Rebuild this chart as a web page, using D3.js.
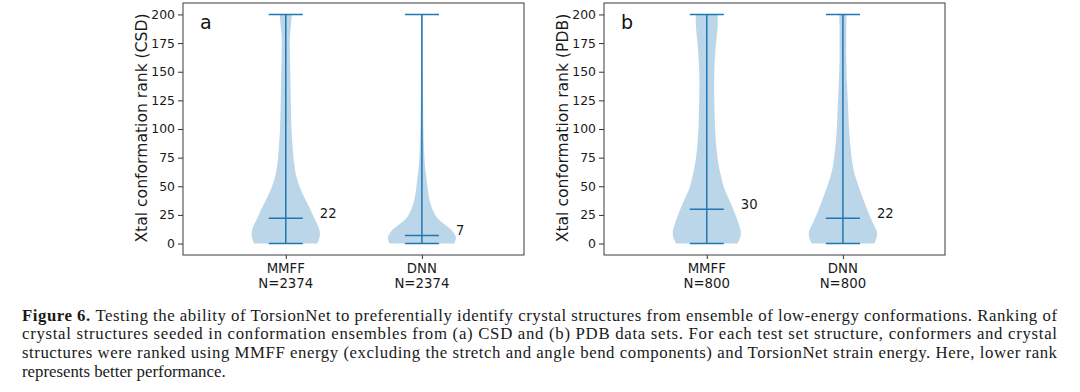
<!DOCTYPE html>
<html>
<head>
<meta charset="utf-8">
<script src="https://cdn.jsdelivr.net/npm/d3@7"></script>
<style>
  html, body { margin: 0; padding: 0; background: #fff; }
  svg { display: block; }
</style>
</head>
<body>
<svg id="chart" width="1080" height="392"></svg>
<script>
// ---------------- data ----------------
const categories = ["MMFF", "DNN"];
const panelLetters = ["a", "b"];
const yAxisLabels = ["Xtal conformation rank (CSD)", "Xtal conformation rank (PDB)"];
const countsCSD = [2374, 2374];
const countsPDB = [800, 800];
const mediansCSD = [22, 7];
const mediansPDB = [30, 22];
const minsCSD = [0, 0];
const minsPDB = [0, 0];
const maxsCSD = [200, 200];
const maxsPDB = [200, 200];
const yTicks = [0, 25, 50, 75, 100, 125, 150, 175, 200];
// rank grid where relative density (violin half-width, max = 1) was read
const rankGrid = [0, 5, 10, 15, 22, 30, 40, 50, 60, 70, 85, 100, 120, 140, 160, 180, 190, 200];
const densCsdMmff = [0.93, 0.99, 1.00, 0.95, 0.84, 0.72, 0.55, 0.40, 0.30, 0.245, 0.20, 0.17, 0.15, 0.14, 0.125, 0.12, 0.15, 0.18];
const densCsdDnn  = [0.95, 1.00, 0.92, 0.74, 0.46, 0.31, 0.21, 0.16, 0.12, 0.085, 0.06, 0.045, 0.035, 0.03, 0.025, 0.025, 0.025, 0.025];
const densPdbMmff = [0.90, 0.98, 1.00, 0.96, 0.88, 0.78, 0.63, 0.49, 0.41, 0.34, 0.28, 0.245, 0.225, 0.215, 0.235, 0.29, 0.32, 0.32];
const densPdbDnn  = [0.92, 0.99, 1.00, 0.93, 0.82, 0.71, 0.58, 0.46, 0.35, 0.28, 0.22, 0.18, 0.15, 0.12, 0.10, 0.10, 0.10, 0.11];
const captionLines = [
  "Testing the ability of TorsionNet to preferentially identify crystal structures from ensemble of low-energy conformations. Ranking of",
  "crystal structures seeded in conformation ensembles from (a) CSD and (b) PDB data sets. For each test set structure, conformers and crystal",
  "structures were ranked using MMFF energy (excluding the stretch and angle bend components) and TorsionNet strain energy. Here, lower rank",
  "represents better performance."
];
const captionLead = "Figure 6.";

// ---------------- layout ----------------
const svg = d3.select("#chart");
const C0 = "#1f77b4";
const FONT = "DejaVu Sans, sans-serif";

const panels = [
  { left: 183, right: 524, letter: panelLetters[0], ylab: yAxisLabels[0], counts: countsCSD,
    medians: mediansCSD, mins: minsCSD, maxs: maxsCSD, dens: [densCsdMmff, densCsdDnn] },
  { left: 604, right: 945, letter: panelLetters[1], ylab: yAxisLabels[1], counts: countsPDB,
    medians: mediansPDB, mins: minsPDB, maxs: maxsPDB, dens: [densPdbMmff, densPdbDnn] }
];
const plotTop = 3, plotBottom = 255;
const y = d3.scaleLinear().domain([-10, 210]).range([plotBottom, plotTop]);

panels.forEach(p => {
  const x = d3.scaleLinear().domain([0.245, 2.75]).range([p.left, p.right]);
  const g = svg.append("g");

  // violins
  p.dens.forEach((dens, i) => {
    const pos = i + 1;
    const pts = rankGrid.map((r, k) => ({ r, d: dens[k] }));
    const area = d3.area()
      .y(d => y(d.r))
      .x0(d => x(pos - d.d * 0.25))
      .x1(d => x(pos + d.d * 0.25))
      .curve(d3.curveCatmullRom.alpha(0.5));
    g.append("path").attr("d", area(pts))
      .attr("fill", C0).attr("fill-opacity", 0.3).attr("stroke", "none");
  });

  // bars / lines
  categories.forEach((c, i) => {
    const pos = i + 1;
    const lines = [
      [pos, p.mins[i], pos, p.maxs[i]],
      [pos - 0.125, p.mins[i], pos + 0.125, p.mins[i]],
      [pos - 0.125, p.maxs[i], pos + 0.125, p.maxs[i]],
      [pos - 0.125, p.medians[i], pos + 0.125, p.medians[i]]
    ];
    lines.forEach(l => {
      g.append("line")
        .attr("x1", x(l[0])).attr("y1", y(l[1]))
        .attr("x2", x(l[2])).attr("y2", y(l[3]))
        .attr("stroke", C0).attr("stroke-width", 1.5);
    });
    g.append("text")
      .attr("x", x(pos + 0.25)).attr("y", y(p.medians[i] + 4.5))
      .attr("dy", "0.36em")
      .attr("font-family", FONT).attr("font-size", 13.2).attr("fill", "#1a1a1a")
      .text(p.medians[i]);
  });

  // y axis
  const yAxis = d3.axisLeft(y).tickValues(yTicks).tickSize(5).tickPadding(3);
  const ya = g.append("g").attr("transform", `translate(${p.left},0)`).call(yAxis);
  ya.select(".domain").remove();
  ya.selectAll("text").attr("font-family", FONT).attr("font-size", 12.4).attr("fill", "#1a1a1a");
  ya.selectAll("line").attr("stroke", "#333");

  // x axis
  const xAxis = d3.axisBottom(x).tickValues([1, 2]).tickSize(4).tickFormat("");
  const xa = g.append("g").attr("transform", `translate(0,${plotBottom})`).call(xAxis);
  xa.select(".domain").remove();
  xa.selectAll("line").attr("stroke", "#333");
  categories.forEach((c, i) => {
    const t = g.append("text")
      .attr("x", x(i + 1)).attr("text-anchor", "middle")
      .attr("font-family", FONT).attr("font-size", 13.3).attr("fill", "#1a1a1a");
    t.append("tspan").attr("x", x(i + 1)).attr("y", 272.8).text(c);
    t.append("tspan").attr("x", x(i + 1)).attr("y", 287.8).text("N=" + p.counts[i]);
  });

  // frame
  g.append("rect").attr("x", p.left).attr("y", plotTop)
    .attr("width", p.right - p.left).attr("height", plotBottom - plotTop)
    .attr("fill", "none").attr("stroke", "#3a3a3a").attr("stroke-width", 1);

  // y label
  g.append("text")
    .attr("transform", `translate(${p.left - 42},${(plotTop + plotBottom) / 2 - 1}) rotate(-90)`)
    .attr("text-anchor", "middle").attr("dy", "0.36em")
    .attr("font-family", FONT).attr("font-size", 15.6).attr("fill", "#1a1a1a")
    .text(p.ylab);

  // panel letter
  g.append("text")
    .attr("x", x(0.245) + 17).attr("y", 28.5)
    .attr("font-family", FONT).attr("font-size", 19).attr("fill", "#111")
    .text(p.letter);
});

// caption
const capX = 22, capW = 1035, capBase = 320.5, capStep = 18.8;
const SERIF = "Liberation Serif, Times New Roman, serif";
captionLines.forEach((line, i) => {
  const t = svg.append("text")
    .attr("x", capX).attr("y", capBase + i * capStep)
    .attr("font-family", SERIF).attr("font-size", 16.8).attr("fill", "#1a1a1a");
  if (i < captionLines.length - 1) {
    t.attr("textLength", capW).attr("lengthAdjust", "spacing");
  }
  if (i === 0) {
    t.append("tspan").attr("font-weight", "bold").text(captionLead + " ");
  }
  t.append("tspan").text(line);
});
</script>
</body>
</html>
